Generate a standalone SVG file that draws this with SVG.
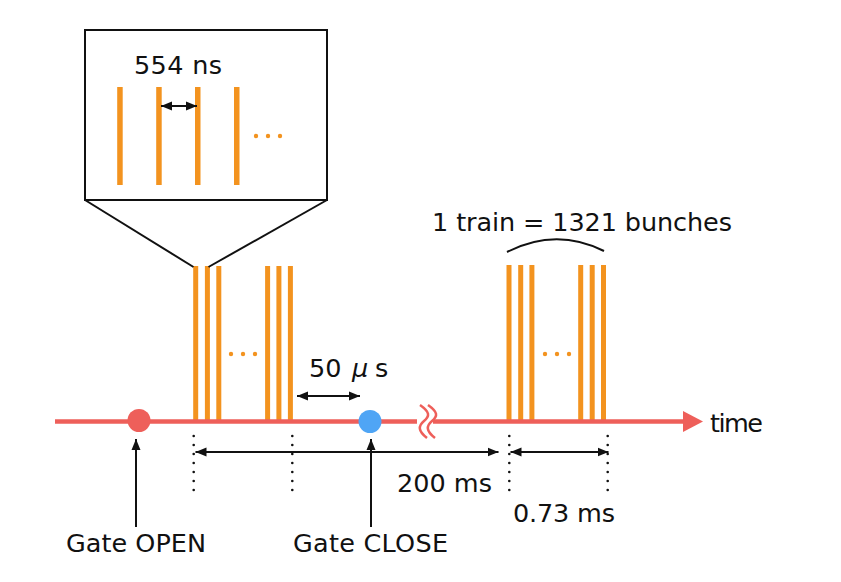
<svg xmlns="http://www.w3.org/2000/svg" width="841" height="582" viewBox="0 0 841 582">
<style>
.t{font-family:"DejaVu Sans","Liberation Sans",sans-serif;font-size:25.5px;fill:#111}
.bar{fill:#F3931F}
.dot{fill:#F3931F}
.ln{stroke:#111;stroke-width:2;fill:none}
.ax{stroke:#EE5F5A;stroke-width:4.5;fill:none}
.dotted{stroke:#111;stroke-width:2.6;stroke-linecap:round;stroke-dasharray:0 9;fill:none}
</style>
<defs>
<marker id="ah" markerUnits="userSpaceOnUse" markerWidth="12" markerHeight="10" refX="11" refY="5" orient="auto-start-reverse">
<path d="M0,0.5 L11,5 L0,9.5 Z" fill="#111"/>
</marker>
</defs>
<rect width="841" height="582" fill="#fff"/>

<g id="inset">
<rect x="85" y="30" width="242" height="170" fill="#fff" stroke="#111" stroke-width="2"/>
<rect class="bar" x="117.2" y="87" width="5.5" height="98"/>
<rect class="bar" x="156.2" y="87" width="5.5" height="98"/>
<rect class="bar" x="195" y="87" width="5.5" height="98"/>
<rect class="bar" x="234" y="87" width="5.5" height="98"/>
<circle class="dot" cx="256" cy="136" r="2.2"/>
<circle class="dot" cx="268" cy="136" r="2.2"/>
<circle class="dot" cx="280" cy="136" r="2.2"/>
<text class="t" x="134" y="74" textLength="88">554 ns</text>
</g>

<g id="train1">
<rect class="bar" x="193.2" y="266" width="5" height="155"/>
<rect class="bar" x="204.9" y="266" width="5" height="155"/>
<rect class="bar" x="216.3" y="266" width="5" height="155"/>
<rect class="bar" x="265.1" y="266" width="5" height="155"/>
<rect class="bar" x="276.4" y="266" width="5" height="155"/>
<rect class="bar" x="287.9" y="266" width="5" height="155"/>
<circle class="dot" cx="231" cy="354" r="2.2"/>
<circle class="dot" cx="243" cy="354" r="2.2"/>
<circle class="dot" cx="255" cy="354" r="2.2"/>
</g>

<g id="train2">
<rect class="bar" x="506.5" y="265" width="5" height="156"/>
<rect class="bar" x="518.2" y="265" width="5" height="156"/>
<rect class="bar" x="529.4" y="265" width="5" height="156"/>
<rect class="bar" x="578.2" y="265" width="5" height="156"/>
<rect class="bar" x="589.7" y="265" width="5" height="156"/>
<rect class="bar" x="601" y="265" width="5" height="156"/>
<circle class="dot" cx="545" cy="354" r="2.2"/>
<circle class="dot" cx="557" cy="354" r="2.2"/>
<circle class="dot" cx="569" cy="354" r="2.2"/>
<text class="t" x="432" y="231" textLength="300">1 train = 1321 bunches</text>
</g>

<g id="axis">
<line class="ax" x1="55" y1="421.5" x2="417" y2="421.5"/>
<line class="ax" x1="433" y1="421.5" x2="685" y2="421.5"/>
<path d="M683,411 L703,421.5 L683,432 Z" fill="#EE5F5A"/>
<path d="M420,405 C430,412 430,416 424,421 C418,426 418,431 427,438" stroke="#EE5F5A" stroke-width="2.5" fill="none"/>
<path d="M428,405 C438,412 438,416 432,421 C426,426 426,431 435,438" stroke="#EE5F5A" stroke-width="2.5" fill="none"/>
<text class="t" x="710" y="432" textLength="53">time</text>
</g>

<g id="gate-open">
<circle cx="139" cy="420.5" r="11.5" fill="#EE5F5A"/>
<text class="t" x="66" y="552" textLength="140">Gate OPEN</text>
</g>

<g id="gate-close">
<circle cx="370" cy="421.5" r="11.5" fill="#4FA5F5"/>
<text class="t" x="293" y="552" textLength="155">Gate CLOSE</text>
</g>

<g id="labels">
<text class="t" y="377"><tspan x="309">50</tspan><tspan x="352" font-style="italic">μ</tspan><tspan x="375">s</tspan></text>
<text class="t" x="397" y="492" textLength="95">200 ms</text>
<text class="t" x="513" y="522" textLength="102">0.73 ms</text>
</g>

<g id="connectors">
<line class="ln" x1="85" y1="200" x2="193.5" y2="267"/>
<line class="ln" x1="327" y1="200" x2="208.5" y2="267"/>
<line class="ln" x1="161" y1="106" x2="197" y2="106" marker-start="url(#ah)" marker-end="url(#ah)"/>
<line class="ln" x1="297" y1="396" x2="360" y2="396" marker-start="url(#ah)" marker-end="url(#ah)"/>
<line class="ln" x1="195.5" y1="452" x2="498.5" y2="452" marker-start="url(#ah)" marker-end="url(#ah)"/>
<line class="ln" x1="510.5" y1="452" x2="608.5" y2="452" marker-start="url(#ah)" marker-end="url(#ah)"/>
<line class="ln" x1="136" y1="527" x2="136" y2="439" marker-end="url(#ah)"/>
<line class="ln" x1="371" y1="527" x2="371" y2="439" marker-end="url(#ah)"/>
<path class="ln" d="M507,252 Q556,227 604,251"/>
<line class="dotted" x1="193.7" y1="436" x2="193.7" y2="491"/>
<line class="dotted" x1="292.3" y1="436" x2="292.3" y2="491"/>
<line class="dotted" x1="509.3" y1="436" x2="509.3" y2="491"/>
<line class="dotted" x1="607.7" y1="436" x2="607.7" y2="491"/>
</g>
</svg>
